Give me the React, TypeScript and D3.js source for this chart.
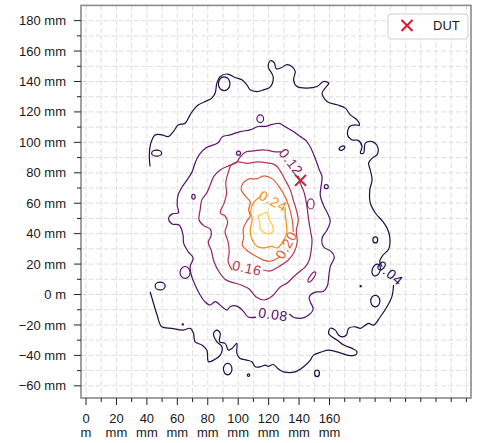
import * as d3 from "d3";

type Pt = [number, number];

// ── Data (all in mm) ──────────────────────────────────────────────────────────

const LEVELS = [0.04, 0.08, 0.12, 0.16, 0.2, 0.24, 0.28];

// 0.04 runs off the left edge of the scan, so it is two open pieces split by its label
const C004_A: Pt[] = [
  [42.1, 84.1], [41.6, 91.8], [42.6, 99.5], [45.4, 104.9], [49.8, 104.9], [54.1, 103.8],
  [57.4, 107.1], [60.7, 111.5], [65.1, 112.6], [68.4, 118.1], [70.6, 121.4], [73.9, 124.7],
  [78.3, 126.8], [82.7, 129.1], [84.9, 132.4], [86.0, 138.9], [88.2, 143.3], [93.0, 144.9],
  [98.0, 142.6], [102.4, 141.1], [105.7, 137.8], [107.9, 134.5], [112.3, 133.4], [116.6, 134.5],
  [121.1, 136.5], [123.0, 143.1], [119.7, 149.7], [121.1, 153.6], [123.7, 152.3], [125.0, 148.4],
  [128.3, 149.0], [131.6, 151.0], [135.3, 149.9], [137.5, 146.6], [136.4, 141.1], [138.6, 136.7],
  [145.2, 135.7], [151.8, 136.7], [156.1, 140.0], [159.5, 138.9], [157.2, 135.7], [155.1, 132.4],
  [158.4, 126.8], [164.9, 124.7], [170.4, 122.5], [173.7, 118.1], [178.1, 114.8], [179.6, 111.2],
  [177.0, 111.5], [173.2, 110.4], [171.9, 104.9], [174.8, 101.6], [178.9, 101.3], [181.4, 97.2],
  [180.3, 92.9], [182.4, 92.9], [183.6, 99.5], [188.0, 100.5], [191.6, 97.2], [191.2, 91.8],
  [188.0, 89.6], [185.7, 86.3], [186.8, 81.9], [188.0, 75.3], [186.5, 68.8], [186.8, 60.2],
  [190.1, 53.6], [194.7, 48.4], [197.8, 43.8], [199.7, 37.2], [198.9, 29.9], [194.7, 25.3],
  [193.0, 21.4], [194.7, 18.4],
];

const C004_B: Pt[] = [
  [202.1, 6.3], [201.0, -1.4], [197.8, -8.0], [193.4, -14.6], [189.0, -20.1], [185.7, -19.0],
  [183.6, -20.1], [180.3, -22.2], [177.0, -21.2], [172.6, -22.2], [171.1, -26.6], [168.2, -27.8],
  [165.9, -26.6], [163.8, -23.4], [160.5, -22.2], [159.4, -25.5], [161.6, -27.8], [164.9, -29.9],
  [169.3, -33.2], [174.8, -35.4], [178.1, -37.6], [177.0, -39.8], [171.5, -39.8], [167.1, -38.3],
  [159.4, -36.5], [155.1, -37.6], [149.5, -39.8], [147.4, -43.1], [143.0, -47.5], [137.5, -50.8],
  [129.8, -50.8], [126.3, -48.8], [123.0, -46.0], [119.7, -47.2], [117.8, -46.4], [114.5, -47.5],
  [111.2, -47.5], [109.0, -44.2], [105.7, -43.1], [101.3, -42.0], [99.1, -38.7], [99.1, -32.1],
  [95.9, -35.4], [93.6, -36.5], [91.4, -32.1], [87.7, -31.1], [88.2, -25.5], [86.0, -23.4],
  [83.8, -25.5], [86.0, -31.1], [89.3, -34.3], [88.2, -39.8], [83.8, -43.1], [80.5, -44.2],
  [79.4, -36.5], [76.1, -33.2], [71.7, -31.1], [70.6, -25.5], [68.4, -22.2], [63.9, -23.4],
  [56.4, -22.2], [49.8, -21.2], [46.7, -13.5], [44.1, -4.9], [42.1, 1.8],
];

const C008: Pt[] = [
  [133.6, -12.8], [136.8, -15.1], [141.9, -15.5], [146.3, -13.5], [149.3, -9.5], [147.4, -4.9],
  [146.7, -1.6], [150.7, 1.6], [155.9, 2.0], [158.6, 5.6], [159.5, 11.7], [160.5, 18.3],
  [163.2, 24.7], [161.2, 28.2], [156.1, 31.4], [155.1, 37.0], [158.4, 42.4], [160.5, 48.4],
  [158.6, 53.6], [155.9, 58.9], [153.9, 65.5], [154.6, 72.0], [155.1, 77.5], [153.3, 81.9],
  [151.8, 86.3], [149.7, 91.8], [147.4, 97.0], [144.7, 101.0], [140.8, 103.8], [135.5, 107.6],
  [130.9, 110.2], [127.0, 112.5], [122.4, 111.8], [117.8, 110.5], [113.2, 110.4], [107.9, 108.2],
  [101.3, 107.1], [94.7, 104.9], [89.5, 103.6], [86.8, 99.7], [78.9, 96.4], [74.3, 91.8],
  [71.7, 86.5], [69.7, 80.6], [66.4, 75.3], [63.2, 70.7], [60.5, 65.5], [59.9, 58.9],
  [60.7, 53.6], [56.6, 53.0], [54.3, 49.7], [56.6, 46.4], [61.2, 45.7], [63.8, 39.1],
  [64.1, 33.9], [67.1, 28.2], [70.4, 24.0], [68.4, 18.3], [69.5, 11.7], [71.7, 6.3],
  [75.0, -0.3], [78.3, -4.9], [81.6, -6.9], [84.9, -4.7], [89.3, -8.0], [92.6, -10.2],
  [94.7, -8.0], [99.1, -7.6], [103.3, -10.9], [106.6, -14.8], [111.8, -14.8],
];

const C012: Pt[] = [
  [139.5, 78.0], [140.8, 73.4], [143.4, 66.8], [145.2, 57.8], [146.3, 49.0], [147.4, 42.4],
  [148.5, 35.9], [148.0, 29.3], [146.7, 22.7], [144.1, 18.1], [140.1, 14.8], [136.2, 11.5],
  [132.2, 7.6], [127.6, 4.9], [122.4, -1.0], [117.1, -3.6], [111.8, -1.6], [107.2, 3.6],
  [102.0, 6.3], [97.4, 7.6], [92.1, 9.5], [87.5, 14.8], [84.2, 21.4], [82.2, 29.3],
  [80.3, 34.5], [82.2, 38.5], [81.6, 43.1], [77.6, 45.1], [74.3, 49.0], [75.0, 55.6],
  [76.1, 62.2], [79.4, 66.8], [81.6, 72.0], [84.2, 78.0], [88.2, 81.9], [93.4, 84.5],
  [98.7, 86.5], [101.3, 90.5], [105.3, 93.8], [110.5, 94.4], [115.8, 95.1], [119.7, 94.7],
  [124.3, 93.8], [128.3, 93.8],
];

const C016: Pt[] = [
  [116.4, 16.1], [121.1, 15.5], [126.3, 18.1], [132.9, 22.7], [136.8, 28.0], [138.8, 34.5],
  [138.2, 41.8], [139.5, 49.0], [138.2, 55.6], [136.2, 62.2], [134.2, 68.8], [130.9, 75.3],
  [127.6, 81.3], [124.3, 85.2], [119.1, 86.5], [112.5, 87.2], [105.9, 86.2], [99.3, 87.2],
  [95.4, 85.2], [93.4, 79.9], [91.8, 73.4], [92.4, 66.8], [90.8, 60.2], [88.2, 53.6],
  [91.4, 51.6], [93.1, 47.7], [91.4, 41.1], [93.4, 34.5], [94.1, 28.0], [93.4, 21.4],
  [96.1, 16.1],
];

const C020: Pt[] = [
  [136.2, 41.1], [135.5, 49.0], [133.6, 56.9], [130.9, 64.1], [127.0, 70.7], [122.4, 76.0],
  [117.1, 78.0], [111.8, 76.0], [107.2, 76.0], [103.3, 73.4], [102.0, 68.8], [104.6, 64.8],
  [107.9, 60.9], [106.9, 55.6], [107.9, 51.6], [105.3, 47.7], [103.3, 43.1], [103.6, 37.2],
  [102.6, 32.6], [105.3, 29.3], [109.2, 26.6], [113.2, 24.3], [117.1, 22.4], [121.1, 21.9],
  [124.3, 23.0], [127.2, 24.7],
];

const C024: Pt[] = [
  [115.1, 64.8], [110.5, 60.9], [108.2, 54.9], [109.2, 49.0], [107.9, 42.4], [109.2, 35.9],
  [112.5, 31.6], [117.1, 30.6], [122.0, 31.6], [125.7, 30.6], [128.9, 33.9], [131.9, 40.5],
  [131.6, 47.0], [130.9, 53.0], [130.9, 57.6],
];

// innermost, closed
const C028: Pt[] = [
  [113.2, 51.6], [115.8, 52.6], [119.1, 53.9], [120.1, 49.7], [122.4, 45.7], [123.0, 41.8],
  [120.4, 39.8], [117.1, 40.8], [114.5, 43.1], [114.2, 47.0],
];

// small closed islands: level, centre, half-axes (mm), tilt (deg)
const LOOP_LEVEL = [0.04, 0.04, 0.04, 0.04, 0.04, 0.04, 0.04, 0.04, 0.04, 0.04, 0.04, 0.04,
  0.08, 0.08, 0.08, 0.08, 0.08, 0.12, 0.12];
const LOOP_X = [46.4, 90.8, 48.7, 93.1, 151.8, 168.2, 190.1, 190.1, 190.7, 106.8, 63.6, 180.5,
  114.5, 100.2, 70.6, 65.1, 157.9, 147.7, 148.4];
const LOOP_Y = [92.9, 138.5, 5.6, -49.0, -51.8, 96.2, 35.9, -4.3, 16.1, -53.0, -19.6, 5.5,
  115.5, 92.9, 64.3, 14.5, 70.9, 59.5, 11.5];
const LOOP_RX = [3.3, 3.8, 3.3, 2.8, 1.6, 2.0, 1.6, 3.0, 2.6, 0.8, 0.4, 0.4,
  2.2, 1.3, 1.1, 3.3, 1.3, 2.2, 1.3];
const LOOP_RY = [2.0, 4.5, 2.6, 3.8, 2.2, 1.2, 2.0, 3.8, 4.0, 0.8, 0.4, 0.4,
  2.5, 1.3, 1.6, 3.9, 1.3, 3.3, 4.0];
const LOOP_TILT = [0, 0, 0, 0, 0, -30, 0, 0, 20, 0, 0, 0, 0, 0, 0, 0, 0, 0, 35];

const LABEL_LEVEL = [0.04, 0.08, 0.12, 0.16, 0.2, 0.24];
const LABEL_X = [199.7, 122.9, 134.7, 105.8, 131.7, 122.9];
const LABEL_Y = [14.1, -13.1, 87.1, 17.4, 32.5, 61.4];
const LABEL_ANGLE = [40, 8, 52, 12, -60, 28];

const DUT: Pt = [141, 75];

const X_TICKS = [0, 20, 40, 60, 80, 100, 120, 140, 160];
const Y_TICKS = [-60, -40, -20, 0, 20, 40, 60, 80, 100, 120, 140, 160, 180];

// ── Config ────────────────────────────────────────────────────────────────────

const W = 482;
const H = 443;
const PLOT = { left: 81, right: 471, top: 5.4, bottom: 398 };
const FONT = "'Liberation Sans', Arial, sans-serif";
const RED = "#e3122d";

const levelColor = (lv: number) =>
  d3.interpolateInferno((LEVELS.indexOf(lv) + 1) / 8);

// ── Component ─────────────────────────────────────────────────────────────────

export default function App() {
  const x = d3.scaleLinear().domain([-3.3, 253]).range([PLOT.left, PLOT.right]);
  const y = d3.scaleLinear().domain([-68, 190]).range([PLOT.bottom, PLOT.top]);
  const k = x(1) - x(0);

  const open = d3.line<Pt>().x((d) => x(d[0])).y((d) => y(d[1])).curve(d3.curveCatmullRom);
  const closed = d3.line<Pt>().x((d) => x(d[0])).y((d) => y(d[1])).curve(d3.curveCatmullRomClosed);

  const contours = [
    { level: 0.04, pts: C004_A, shut: false },
    { level: 0.04, pts: C004_B, shut: false },
    { level: 0.08, pts: C008, shut: false },
    { level: 0.12, pts: C012, shut: false },
    { level: 0.16, pts: C016, shut: false },
    { level: 0.2, pts: C020, shut: false },
    { level: 0.24, pts: C024, shut: false },
    { level: 0.28, pts: C028, shut: true },
  ];

  const xMinor = d3.range(10, 251, 20);
  const yMinor = d3.range(-50, 180, 20);
  const xGrid = d3.range(0, 251, 10);
  const yGrid = d3.range(-60, 181, 10);

  const yLabel = (v: number) => (v === 0 ? "0 m" : `${v < 0 ? "\u2212" : ""}${Math.abs(v)} mm`);

  const cross = (cx: number, cy: number, s: number) =>
    `M${cx - s},${cy - s}L${cx + s},${cy + s}M${cx - s},${cy + s}L${cx + s},${cy - s}`;

  return (
    <svg
      width={W}
      height={H}
      style={{ position: "absolute", left: 0, top: 0, display: "block", background: "#fff" }}
      fontFamily={FONT}
    >
      {/* grid */}
      <g stroke="#dedede" strokeWidth={1} strokeDasharray="5,2.5">
        {xGrid.map((v) => (
          <line key={`gx${v}`} x1={x(v)} x2={x(v)} y1={PLOT.top} y2={PLOT.bottom} />
        ))}
        {yGrid.map((v) => (
          <line key={`gy${v}`} x1={PLOT.left} x2={PLOT.right} y1={y(v)} y2={y(v)} />
        ))}
      </g>

      {/* contours */}
      <g fill="none" strokeWidth={1.2} strokeLinejoin="round">
        {contours.map((c, i) => (
          <path
            key={`c${i}`}
            d={(c.shut ? closed : open)(c.pts) ?? ""}
            stroke={levelColor(c.level)}
          />
        ))}
        {LOOP_LEVEL.map((lv, i) => {
          const cx = x(LOOP_X[i]);
          const cy = y(LOOP_Y[i]);
          return (
            <ellipse
              key={`l${i}`}
              cx={cx}
              cy={cy}
              rx={LOOP_RX[i] * k}
              ry={LOOP_RY[i] * k}
              transform={`rotate(${LOOP_TILT[i]} ${cx} ${cy})`}
              stroke={levelColor(lv)}
            />
          );
        })}
      </g>

      {/* contour labels */}
      <g fontSize={14} textAnchor="middle" letterSpacing={0.6}>
        {LABEL_LEVEL.map((lv, i) => {
          const cx = x(LABEL_X[i]);
          const cy = y(LABEL_Y[i]);
          return (
            <text
              key={`t${i}`}
              x={cx}
              y={cy}
              dy="0.35em"
              fill={levelColor(lv)}
              transform={`rotate(${LABEL_ANGLE[i]} ${cx} ${cy})`}
            >
              {lv.toFixed(2)}
            </text>
          );
        })}
      </g>

      {/* DUT */}
      <path d={cross(x(DUT[0]), y(DUT[1]), 5.5)} stroke={RED} strokeWidth={2} fill="none" />

      {/* spines */}
      <rect
        x={PLOT.left}
        y={PLOT.top}
        width={PLOT.right - PLOT.left}
        height={PLOT.bottom - PLOT.top}
        fill="none"
        stroke="#8a8a8a"
        strokeWidth={1.6}
      />

      {/* x axis */}
      <g stroke="#222" strokeWidth={1}>
        {X_TICKS.map((v) => (
          <line key={`xt${v}`} x1={x(v)} x2={x(v)} y1={PLOT.bottom} y2={PLOT.bottom + 7} />
        ))}
        {xMinor.map((v) => (
          <line key={`xm${v}`} x1={x(v)} x2={x(v)} y1={PLOT.bottom} y2={PLOT.bottom + 4} />
        ))}
        {d3.range(180, 251, 20).map((v) => (
          <line key={`xm2${v}`} x1={x(v)} x2={x(v)} y1={PLOT.bottom} y2={PLOT.bottom + 4} />
        ))}
      </g>
      <g fontSize={13} fill="#1a1a1a" textAnchor="middle">
        {X_TICKS.map((v) => (
          <text key={`xl${v}`} x={x(v)} y={422.7}>
            <tspan x={x(v)}>{v}</tspan>
            <tspan x={x(v)} y={436.5}>{v === 0 ? "m" : "mm"}</tspan>
          </text>
        ))}
      </g>

      {/* y axis */}
      <g stroke="#222" strokeWidth={1}>
        {Y_TICKS.map((v) => (
          <line key={`yt${v}`} x1={PLOT.left - 7} x2={PLOT.left} y1={y(v)} y2={y(v)} />
        ))}
        {yMinor.map((v) => (
          <line key={`ym${v}`} x1={PLOT.left - 4} x2={PLOT.left} y1={y(v)} y2={y(v)} />
        ))}
      </g>
      <g fontSize={13} fill="#1a1a1a" textAnchor="end">
        {Y_TICKS.map((v) => (
          <text key={`yl${v}`} x={66} y={y(v)} dy="0.35em">
            {yLabel(v)}
          </text>
        ))}
      </g>

      {/* legend */}
      <g transform={`translate(${PLOT.right - 83},${PLOT.top + 8.6})`}>
        <rect x={0} y={0} width={80} height={25} rx={3} fill="#fff" fillOpacity={0.85} stroke="#cfcfcf" />
        <path d={cross(19, 11.5, 5.5)} stroke={RED} strokeWidth={2} fill="none" />
        <text x={45} y={16} fontSize={13} fill="#1a1a1a">DUT</text>
      </g>
    </svg>
  );
}
